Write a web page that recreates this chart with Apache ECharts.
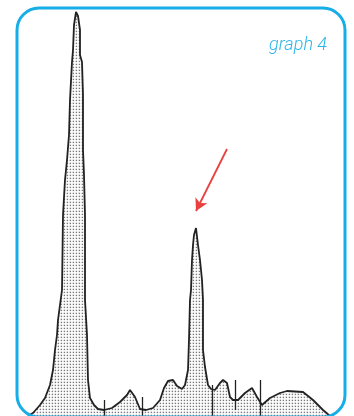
<!DOCTYPE html>
<html>
<head>
<meta charset="utf-8">
<script src="https://cdn.jsdelivr.net/npm/echarts@6/dist/echarts.min.js"></script>
<style>
  html, body { margin: 0; padding: 0; background: #fff; }
  #chart { width: 354px; height: 416px; }
</style>
</head>
<body>
<div id="chart"></div>
<script>
// retention time (arbitrary units) and detector signal
const times = [11, 16, 23, 28, 33, 36, 38, 40, 41, 43, 45, 46, 48, 50, 52, 53, 55, 56, 57, 59,
  60, 61, 63, 63, 65, 66, 66, 67, 68, 68, 70, 71, 73, 77, 81, 87, 95, 103, 110, 113,
  118, 123, 129, 136, 143, 147, 151, 156, 160, 165, 168, 171, 172, 173, 174, 175, 176, 177, 179, 180,
  181, 183, 185, 186, 186, 188, 191, 194, 198, 203, 206, 210, 213, 216, 221, 228, 235, 240, 245, 253,
  263, 270, 286, 296, 306, 313];
const signal = [0, 3, 11, 18, 31, 46, 66, 81, 96, 111, 126, 201, 236, 256, 281, 316, 354, 366, 391, 404,
  404, 400, 386, 361, 354, 321, 266, 241, 201, 116, 81, 36, 18, 11, 7, 6, 8, 14, 21, 26,
  19, 7, 6, 8, 16, 28, 35, 36, 30, 27, 31, 46, 76, 116, 126, 156, 171, 181, 188, 186,
  171, 156, 136, 116, 66, 49, 31, 27, 26, 33, 36, 33, 19, 16, 16, 23, 28, 19, 11, 18,
  23, 25, 24, 16, 6, 0];

// integration marks along the baseline
const markTimes = [87, 125, 195, 218, 243];
const markTop = [16, 19, 31, 36, 36];
const markBottom = [0, 0, 0, 6, 0];

// red arrow pointing at the second peak
const arrowFrom = [210, 267];
const arrowTo = [179, 205];

// stippled fill
const tile = document.createElement('canvas');
tile.width = 3;
tile.height = 3;
const tctx = tile.getContext('2d');
tctx.fillStyle = '#fff';
tctx.fillRect(0, 0, 3, 3);
tctx.fillStyle = '#7a7a7a';
tctx.fillRect(0.7, 0.7, 1.4, 1.4);

const chart = echarts.init(document.getElementById('chart'));
chart.setOption({
  animation: false,
  title: {
    text: 'graph 4',
    right: 22,
    top: 31,
    textStyle: {
      color: '#2cb5e8',
      fontSize: 18,
      fontStyle: 'italic',
      fontWeight: 300,
      fontFamily: 'Roboto'
    }
  },
  grid: { left: 17, right: 9, top: 12, bottom: 0 },
  xAxis: { type: 'value', min: 0, max: 328, show: false },
  yAxis: { type: 'value', min: 0, max: 404, show: false },
  graphic: [{
    type: 'rect',
    z: 100,
    shape: { x: 17, y: 8, width: 328, height: 409, r: 22 },
    style: { fill: 'none', stroke: '#17aee8', lineWidth: 3 }
  }],
  series: [
    {
      type: 'line',
      data: times.map((t, i) => [t, signal[i]]),
      showSymbol: false,
      lineStyle: { color: '#222', width: 1.8 },
      areaStyle: { color: { image: tile, repeat: 'repeat' }, opacity: 1 },
      markLine: {
        silent: true,
        symbol: 'none',
        label: { show: false },
        lineStyle: { color: '#222', width: 1.3, type: 'solid' },
        data: markTimes.map((t, i) => [{ coord: [t, markTop[i]] }, { coord: [t, markBottom[i]] }])
      }
    },
    {
      type: 'line',
      data: [],
      markLine: {
        silent: true,
        symbol: ['none', 'arrow'],
        symbolSize: [10, 12],
        label: { show: false },
        lineStyle: { color: '#e8413d', width: 1.8, type: 'solid' },
        data: [[{ coord: arrowFrom }, { coord: arrowTo }]]
      }
    }
  ]
});
</script>
</body>
</html>
